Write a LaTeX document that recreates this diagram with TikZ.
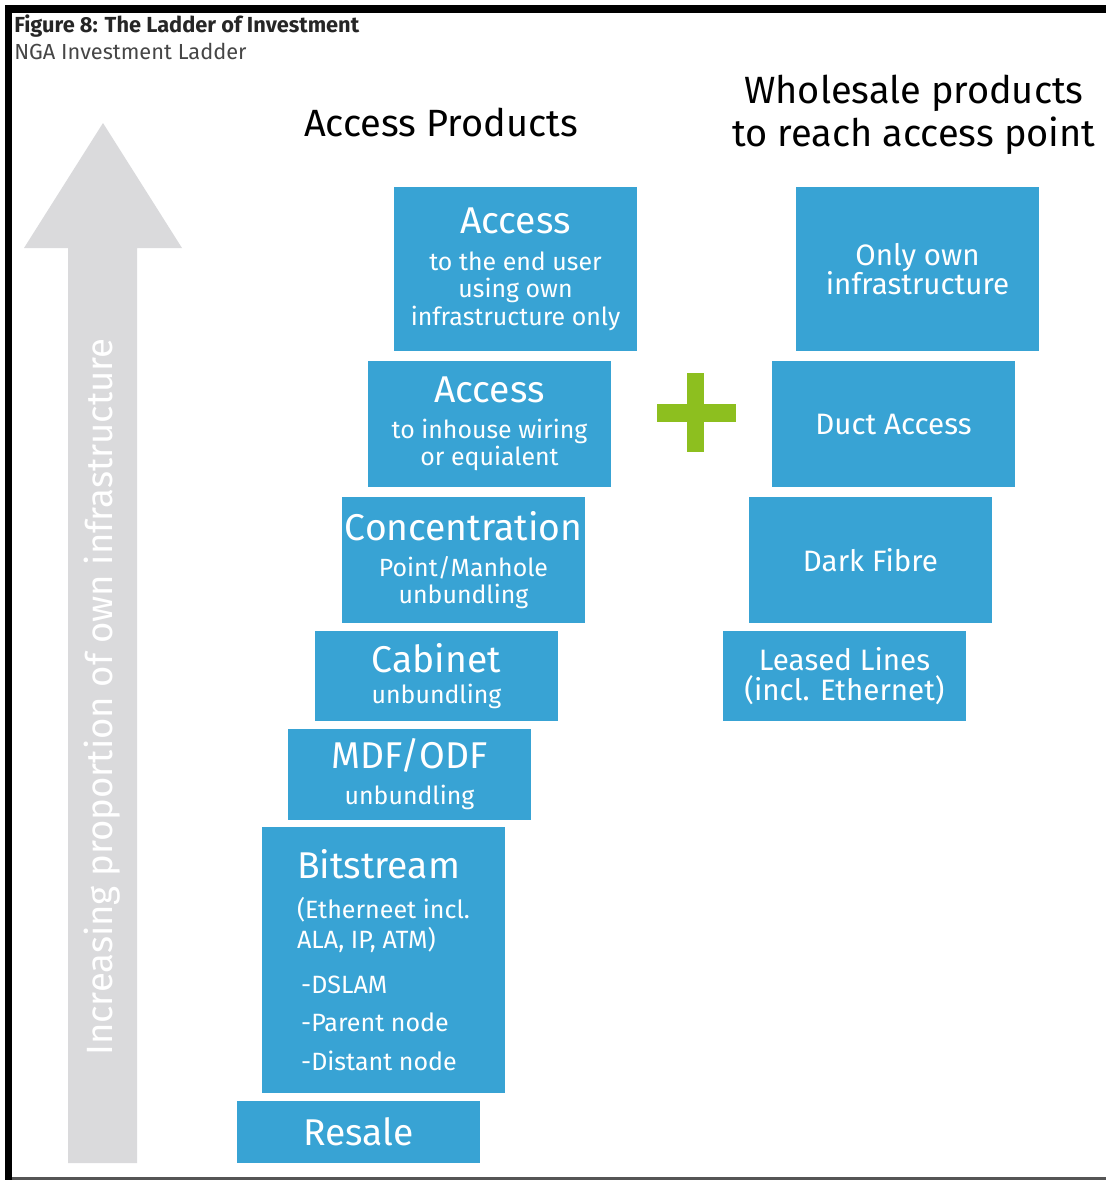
\documentclass[tikz,border=0pt]{standalone}
\usepackage{fontspec}
\setmainfont{Fira Sans}
\usepackage{xcolor}
\definecolor{ladderblue}{RGB}{56, 163, 212}
\definecolor{arrowgrey}{RGB}{218, 218, 220}
\definecolor{plusgreen}{RGB}{141, 191, 31}
\definecolor{framegrey}{RGB}{85, 85, 85}
\definecolor{captiongrey}{RGB}{70, 70, 70}

\newcommand{\rungtitle}{\fontsize{26.5}{30}\selectfont}
\newcommand{\rungsub}{\fontsize{17.7}{19.5}\selectfont}
\newcommand{\wholesub}{\fontsize{21}{21}\selectfont}

\tikzset{
  rung/.style={fill=ladderblue, text=white, align=center, minimum width=6.075cm, inner sep=2pt, font=\rungsub},
  wholerung/.style={rung, font=\wholesub},
  colhead/.style={align=center, inner sep=0pt, font=\fontsize{27}{30.5}\selectfont},
}

\begin{document}
\begin{tikzpicture}[x=0.025cm, y=-0.025cm]
\useasboundingbox (0,0) rectangle (1106,1180);

% frame
\draw[line width=0.19cm] (5,8.75) -- (1106,8.75);
\draw[line width=0.175cm] (8.5,5) -- (8.5,1180);
\draw[framegrey, line width=0.07cm] (12,1178.6) -- (1106,1178.6);

% caption
\node[anchor=base west, inner sep=0pt, font=\fontsize{15.5}{16}\selectfont\bfseries, text=black!85] (figtitle) at (14,32) {Figure 8: The Ladder of Investment};
\node[anchor=base west, inner sep=0pt, font=\fontsize{15.5}{16}\selectfont, text=captiongrey] (figsub) at (14,59) {NGA Investment Ladder};

% big arrow
\fill[arrowgrey] (68,1163) -- (68,248) -- (24,248) -- (103,123) -- (182,248) -- (137,248) -- (137,1163) -- cycle;
\node[rotate=90, text=white, inner sep=0pt, font=\fontsize{26}{28}\selectfont] (arrowtext) at (102,697) {Increasing proportion of own infrastructure};

% column headings
\node[colhead] (accprod) at (441,122) {Access Products};
\node[colhead] (wholeprod) at (914,115) {Wholesale products\\to reach access point};

% access products
\node[rung, minimum height=4.1cm] (endaccess) at (515.5,269) {{\rungtitle Access}\\[7pt] to the end user\\ using own\\ infrastructure only};
\node[rung, minimum height=3.15cm] (inhouse) at (489.5,424) {{\rungtitle Access}\\[6pt] to inhouse wiring\\ or equialent};
\node[rung, minimum height=3.15cm] (conc) at (463.5,560) {{\rungtitle Concentration}\\[6pt] Point/Manhole\\ unbundling};
\node[rung, minimum height=2.25cm] (cabinet) at (436.5,676) {{\rungtitle Cabinet}\\[3pt] unbundling};
\node[rung, minimum height=2.275cm] (mdf) at (409.5,774.5) {{\rungtitle MDF/ODF}\\[6pt] unbundling};
\node[rung, minimum height=6.65cm, align=left, font=\fontsize{17.8}{21.5}\selectfont] (bitstream) at (383.5,960) {{\rungtitle Bitstream}\\[7pt] (Etherneet incl.\\ ALA, IP, ATM)\\[10pt] \,-DSLAM\\[6pt] \,-Parent node\\[6pt] \,-Distant node};
\node[rung, minimum height=1.55cm] (resale) at (358.5,1132) {\rungtitle Resale};

% plus sign
\fill[plusgreen] (687,373) rectangle (704,452);
\fill[plusgreen] (657,404) rectangle (736,422);

% wholesale products
\node[wholerung, minimum height=4.1cm] (ownonly) at (917.5,269) {Only own\\ infrastructure};
\node[wholerung, minimum height=3.15cm] (duct) at (893.5,424) {Duct Access};
\node[wholerung, minimum height=3.15cm] (darkfibre) at (870.5,560) {Dark Fibre};
\node[wholerung, minimum height=2.25cm] (leased) at (844.5,676) {Leased Lines\\ (incl. Ethernet)};
\end{tikzpicture}
\end{document}
